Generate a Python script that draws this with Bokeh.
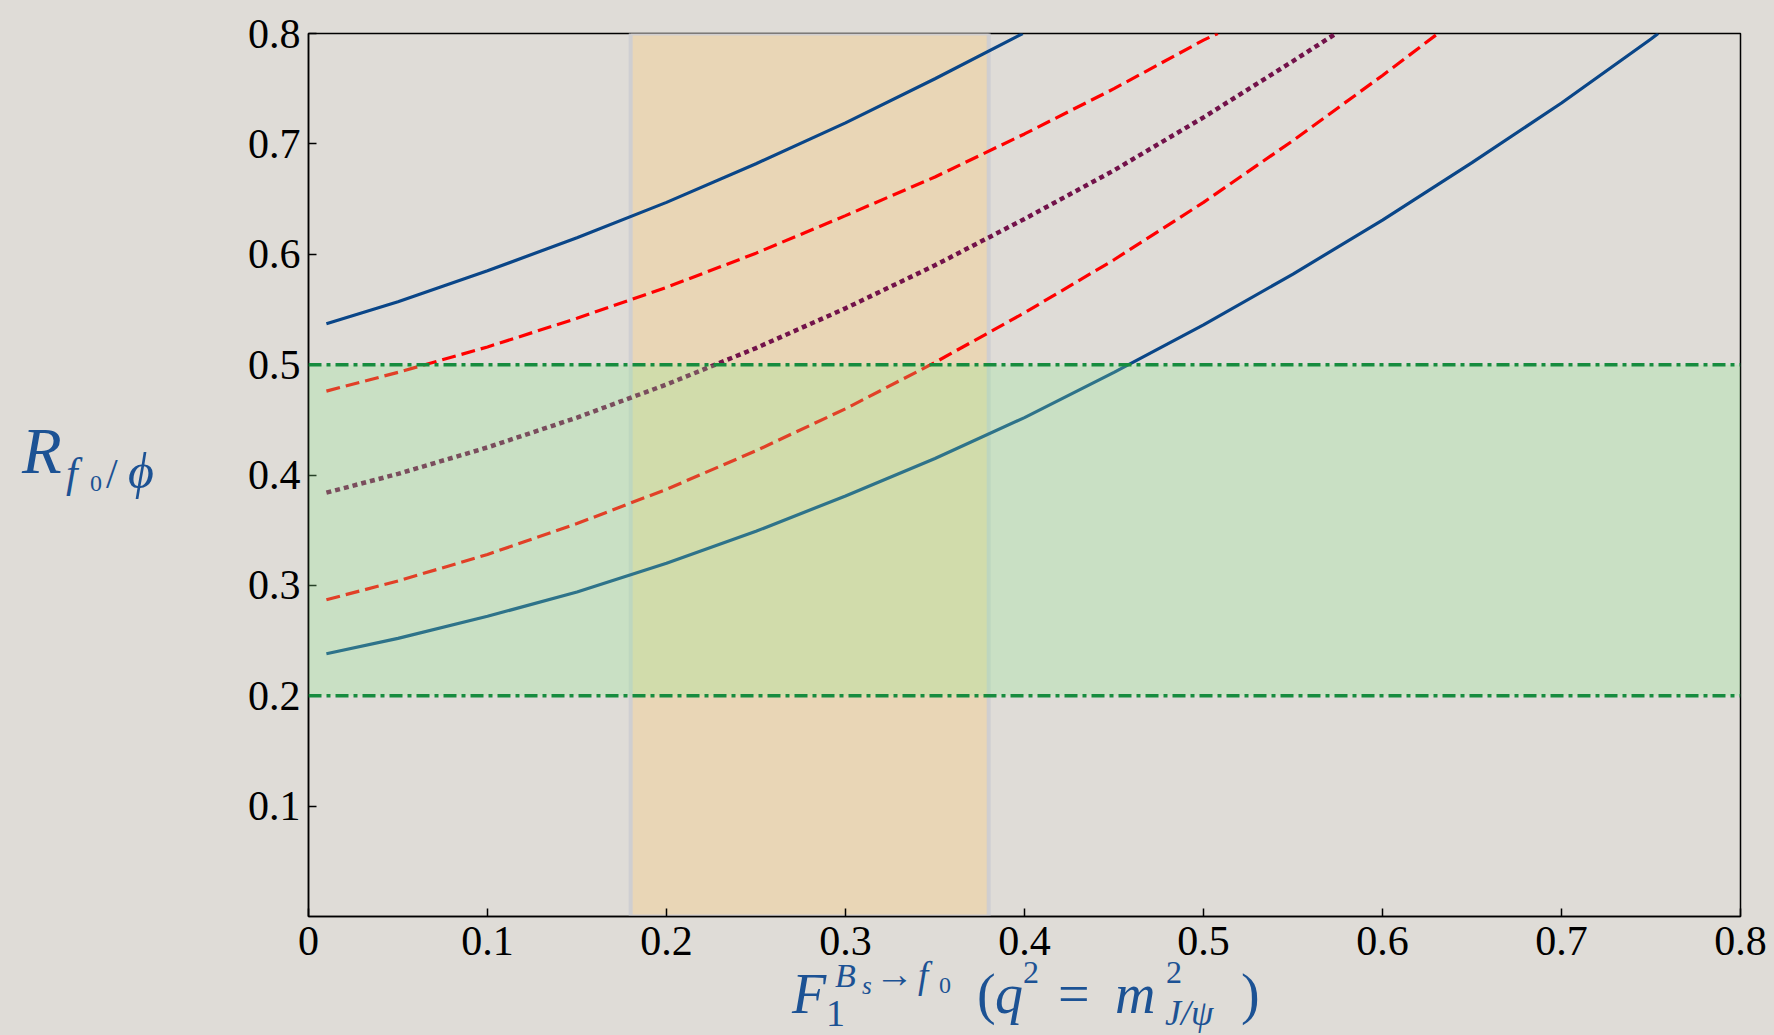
from bokeh.plotting import figure
from bokeh.layouts import row, column
from bokeh.models import FixedTicker, BoxAnnotation, Span, Range1d, Div
from bokeh.embed import file_html
from bokeh.resources import INLINE

# ---------------- data ----------------
x_ticks = [0.0, 0.1, 0.2, 0.3, 0.4, 0.5, 0.6, 0.7, 0.8]
x_tick_labels = ["0", "0.1", "0.2", "0.3", "0.4", "0.5", "0.6", "0.7", "0.8"]
y_ticks = [0.1, 0.2, 0.3, 0.4, 0.5, 0.6, 0.7, 0.8]
y_tick_labels = ["0.1", "0.2", "0.3", "0.4", "0.5", "0.6", "0.7", "0.8"]

# upper solid (blue)
f_blue_hi = [0.01, 0.05, 0.10, 0.15, 0.20, 0.25, 0.30, 0.35, 0.399]
r_blue_hi = [0.537, 0.557, 0.585, 0.615, 0.647, 0.682, 0.719, 0.759, 0.800]
# upper dashed (red)
f_red_hi = [0.01, 0.05, 0.10, 0.15, 0.20, 0.25, 0.30, 0.35, 0.40, 0.45, 0.50, 0.508]
r_red_hi = [0.476, 0.493, 0.516, 0.542, 0.570, 0.601, 0.635, 0.670, 0.709, 0.750, 0.794, 0.800]
# central dotted (purple)
f_mid = [0.01, 0.05, 0.10, 0.15, 0.20, 0.25, 0.30, 0.35, 0.40, 0.45, 0.50, 0.55, 0.574]
r_mid = [0.384, 0.401, 0.425, 0.452, 0.482, 0.515, 0.551, 0.590, 0.632, 0.676, 0.724, 0.775, 0.800]
# lower dashed (red)
f_red_lo = [0.01, 0.05, 0.10, 0.15, 0.20, 0.25, 0.30, 0.35, 0.40, 0.45, 0.50, 0.55, 0.60, 0.631]
r_red_lo = [0.287, 0.304, 0.328, 0.356, 0.387, 0.422, 0.460, 0.502, 0.547, 0.595, 0.647, 0.703, 0.762, 0.800]
# lower solid (blue)
f_blue_lo = [0.01, 0.05, 0.10, 0.15, 0.20, 0.25, 0.30, 0.35, 0.40, 0.45, 0.50, 0.55, 0.60, 0.65, 0.70, 0.75, 0.754]
r_blue_lo = [0.238, 0.252, 0.272, 0.294, 0.320, 0.349, 0.381, 0.415, 0.452, 0.493, 0.536, 0.582, 0.631, 0.683, 0.737, 0.795, 0.800]

# experimental bands
form_factor_band = [0.18, 0.38]   # vertical (orange) band in F
ratio_band = [0.2, 0.5]           # horizontal (green) band in R

# ---------------- style / layout ----------------
BG = "#dfdcd7"
MATH = "#1c5294"
SERIF = "Liberation Serif"

PAGE_W, PAGE_H = 1774, 1035
LEFT_W = 200                 # strip holding the y label
MAIN_W = PAGE_W - LEFT_W
MB = 58
MAIN_H = 33 + 883 + MB
BOTTOM_H = PAGE_H - MAIN_H   # strip holding the x label
OVER = 44                    # x-title svg reaches this far up into the plot's bottom border

p = figure(width=MAIN_W, height=MAIN_H, output_backend="svg", toolbar_location=None,
           x_range=Range1d(0, 0.8), y_range=Range1d(0, 0.8),
           min_border_left=108, min_border_right=34, min_border_top=33, min_border_bottom=MB)
p.background_fill_color = BG
p.border_fill_color = BG
p.grid.visible = False
p.outline_line_color = "black"
p.outline_line_width = 1.5
p.outline_line_alpha = 1.0

for ax in (p.xaxis[0], p.yaxis[0]):
    ax.axis_line_color = "black"
    ax.axis_line_width = 1.5
    ax.major_tick_in = 8
    ax.major_tick_out = 0
    ax.major_tick_line_width = 1.5
    ax.minor_tick_line_color = None
    ax.major_label_text_font = SERIF
    ax.major_label_text_font_size = "42px"
    ax.major_label_text_color = "black"

p.xaxis[0].ticker = FixedTicker(ticks=x_ticks)
p.xaxis[0].major_label_overrides = {t: s for t, s in zip(x_ticks, x_tick_labels)}
p.xaxis[0].major_label_standoff = 10
p.yaxis[0].ticker = FixedTicker(ticks=y_ticks)
p.yaxis[0].major_label_overrides = {t: s for t, s in zip(y_ticks, y_tick_labels)}
p.yaxis[0].major_label_standoff = 8

# orange band (underneath the curves)
p.add_layout(BoxAnnotation(left=form_factor_band[0], right=form_factor_band[1],
                           fill_color="#e9d6b6", fill_alpha=1.0,
                           line_color="#cdcdd2", line_width=4, line_alpha=0.9,
                           level="underlay"))

# curves
BLUE, RED, PURPLE = "#0a4688", "#ff0000", "#72124a"
p.line(f_blue_hi, r_blue_hi, line_color=BLUE, line_width=3.2)
p.line(f_red_hi, r_red_hi, line_color=RED, line_width=3.2, line_dash="14 6")
p.line(f_mid, r_mid, line_color=PURPLE, line_width=4.5, line_dash="5 4")
p.line(f_red_lo, r_red_lo, line_color=RED, line_width=3.2, line_dash="14 6")
p.line(f_blue_lo, r_blue_lo, line_color=BLUE, line_width=3.2)

# green band (on top, translucent) and its dash-dot borders
p.add_layout(BoxAnnotation(bottom=ratio_band[0], top=ratio_band[1],
                           fill_color="#90ee90", fill_alpha=0.27, line_color=None))
for loc in ratio_band:
    p.add_layout(Span(location=loc, dimension="width", line_color="#178c3f",
                      line_width=3.5, line_dash="13 5 4 5"))


# ---------------- math axis titles (real SVG text, baseline positioned) ----------------
def tspan(txt, px, py, size, italic=True):
    st = "italic" if italic else "normal"
    return (f'<text x="{px}" y="{py}" style="font-family:\'{SERIF}\',serif;'
            f'font-size:{size}px;font-style:{st};font-weight:normal;fill:{MATH}">{txt}</text>')


def svg_div(w, h, x0, y0, parts, over=0):
    body = "".join(tspan(t, x - x0, y - y0 + over, s, i) for (t, x, y, s, i) in parts)
    html = (f'<svg xmlns="http://www.w3.org/2000/svg" width="{w}" height="{h + over}" '
            f'style="display:block;overflow:visible;margin-top:-{over}px">{body}</svg>')
    return Div(text=html, width=w, height=h, margin=(0, 0, 0, 0),
               styles={"background-color": BG, "overflow": "visible"})


# (text, page x, page baseline y, font px, italic)
y_title = [
    ("R", 22, 473, 65, True),
    ("f", 66, 487, 42, True),
    ("0", 90, 491, 24, False),
    ("/", 106, 488, 42, False),
    ("ϕ", 128, 488, 50, True),
]
x_title = [
    ("F", 792, 1013, 56, True),
    ("1", 826, 1026, 38, False),
    ("B", 835, 987, 34, True),
    ("s", 862, 994, 25, True),
    ("→", 875, 987, 39, False),
    ("f", 918, 988, 37, True),
    ("0", 939, 993, 24, False),
    ("(", 977, 1013, 56, False),
    ("q", 995, 1013, 56, True),
    ("2", 1023, 983, 32, False),
    ("=", 1058, 1013, 56, False),
    ("m", 1115, 1013, 56, True),
    ("2", 1166, 983, 32, False),
    ("J/ψ", 1165, 1025, 36, True),
    (")", 1241, 1013, 56, False),
]

ylab = svg_div(LEFT_W, PAGE_H, 0, 0, y_title)
xlab = svg_div(MAIN_W, BOTTOM_H, LEFT_W, MAIN_H, x_title, over=OVER)

layout = row(ylab, column(p, xlab, spacing=0), spacing=0)

html = file_html(layout, INLINE, title="R_f0/phi")
html = html.replace("</head>", "<style>html,body{background:%s;}</style></head>" % BG, 1)
open("out.html", "w").write(html)
